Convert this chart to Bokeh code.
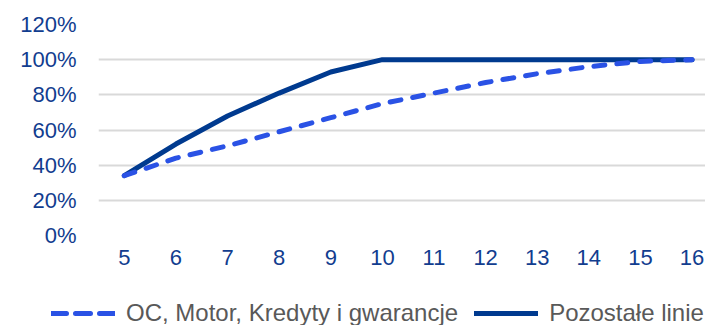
from bokeh.plotting import figure
from bokeh.models import Range1d, FixedTicker, Legend, LegendItem
from bokeh.layouts import column, row
from bokeh.embed import file_html
from bokeh.resources import INLINE

# ---- data ----
years = [5, 6, 7, 8, 9, 10, 11, 12, 13, 14, 15, 16]
oc_motor = [34, 44, 51, 59, 67, 75, 81, 87, 92, 96, 99, 100]
pozostale = [34, 52, 68, 81, 93, 100, 100, 100, 100, 100, 100, 100]
y_ticks = [0, 20, 40, 60, 80, 100, 120]
y_tick_labels = ["0%", "20%", "40%", "60%", "80%", "100%", "120%"]
x_tick_labels = [str(y) for y in years]
series_names = ["OC, Motor, Kredyty i gwarancje", "Pozostałe linie"]

FONT = "Liberation Sans"
LABEL_BLUE = "#123d8f"
DARK = "#003a8f"
BRIGHT = "#2a52e5"

p = figure(width=705, height=290, output_backend="svg", toolbar_location=None,
           x_range=Range1d(4.5, 16.26), y_range=Range1d(0, 120),
           min_border_left=98, min_border_right=0, min_border_top=24,
           min_border_bottom=55)
p.outline_line_color = None
p.background_fill_color = "white"
p.border_fill_color = "white"

r_solid = p.line(years, pozostale, line_color=DARK, line_width=5,
                 line_join="round", line_cap="round")
r_dash = p.line(years, oc_motor, line_color=BRIGHT, line_width=5,
                line_dash="11 12", line_join="round", line_cap="round")

# axes
p.xaxis.ticker = FixedTicker(ticks=years)
p.xaxis.major_label_overrides = dict(zip(years, x_tick_labels))
p.yaxis.ticker = FixedTicker(ticks=y_ticks)
p.yaxis.major_label_overrides = dict(zip(y_ticks, y_tick_labels))
for ax in (p.xaxis[0], p.yaxis[0]):
    ax.axis_line_color = None
    ax.major_tick_line_color = None
    ax.minor_tick_line_color = None
    ax.major_tick_out = 0
    ax.major_tick_in = 0
    ax.major_label_text_font = FONT
    ax.major_label_text_font_size = "22px"
    ax.major_label_text_color = LABEL_BLUE
p.yaxis.major_label_standoff = 22
p.xaxis.major_label_standoff = 14

p.xgrid.grid_line_color = None
p.ygrid.grid_line_color = "#d9d9d9"
p.ygrid.grid_line_width = 2

# ---- legend strip (its own plot; the series lie outside its ranges) ----
lg = figure(width=705, height=35, output_backend="svg", toolbar_location=None,
            x_range=Range1d(0, 1), y_range=Range1d(0, 1),
            x_axis_type=None, y_axis_type=None,
            min_border_left=0, min_border_right=0, min_border_top=0,
            min_border_bottom=0)
lg.outline_line_color = None
lg.xgrid.visible = False
lg.ygrid.visible = False
l_dash = lg.line(years, oc_motor, line_color=BRIGHT, line_width=5,
                 line_dash="15 9", line_cap="round")
l_solid = lg.line(years, pozostale, line_color=DARK, line_width=5,
                  line_cap="round")

legend = Legend(items=[LegendItem(label=series_names[0], renderers=[l_dash]),
                       LegendItem(label=series_names[1], renderers=[l_solid])],
                orientation="horizontal", location=(51, -2),
                glyph_width=64, glyph_height=20, label_standoff=11, spacing=16,
                padding=0, margin=0,
                label_text_font=FONT, label_text_font_size="24px",
                label_text_color="#595959",
                border_line_color=None, background_fill_alpha=0)
lg.add_layout(legend, "center")

open("out.html", "w").write(file_html(column(p, row(lg), spacing=0), INLINE))
